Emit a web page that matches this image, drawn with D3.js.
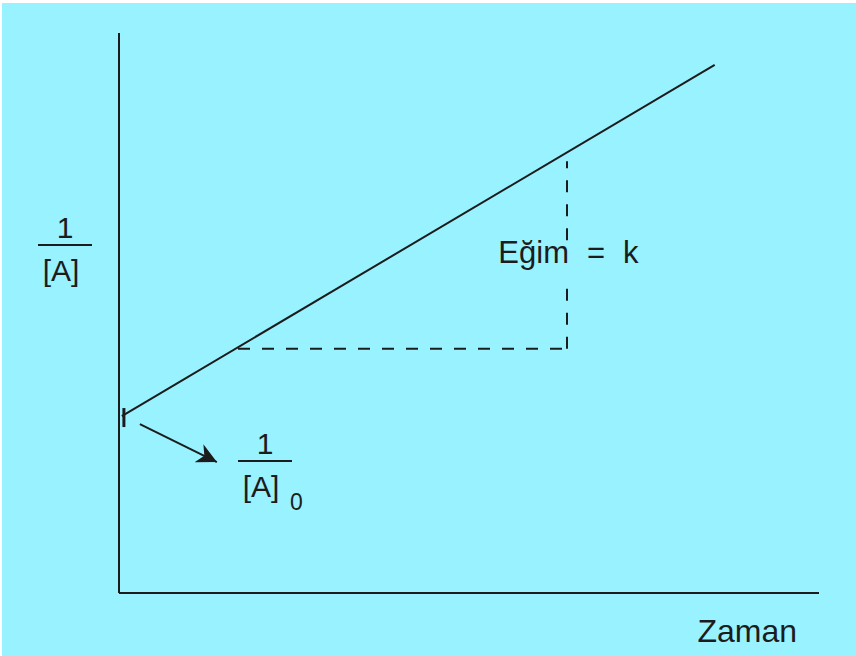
<!DOCTYPE html>
<html>
<head>
<meta charset="utf-8">
<script src="https://cdn.jsdelivr.net/npm/d3@7"></script>
<style>
  body { margin: 0; background: #ffffff; }
  text { font-family: "Liberation Sans", Arial, sans-serif; fill: #1c1c1c; }
</style>
</head>
<body>
<div id="plot"></div>
<script>
// line 1/[A] against time (arbitrary units)
const lineTime = [0.04, 8.51];
const lineValue = [3.16, 9.43];

// slope triangle
const slopeTime = [1.70, 6.40];
const slopeValue = [4.36, 7.71];
const slopeGap = [5.55, 6.3];   // break in vertical dash behind label

// intercept marker and arrow
const interceptTime = 0.07;
const interceptValue = 3.16;

const xLabel = "Zaman";
const slopeLabel = ["Eğim", "=", "k"];

function main(){
  const W = 856, H = 656;
  const margin = {top: 33, right: 37, bottom: 63, left: 119};
  const width = W - margin.left - margin.right;
  const height = H - margin.top - margin.bottom;
  const ink = "#1c1c1c";

  var svg = d3.select("#plot")
      .append("svg")
      .attr("width", W)
      .attr("height", H);

  // cyan panel (thin white strip at top and left)
  svg.append("rect")
    .attr("x", 2).attr("y", 3)
    .attr("width", W - 2).attr("height", H - 3)
    .attr("fill", "#99f2ff");

  svg.append("defs").append("marker")
    .attr("id", "head")
    .attr("viewBox", "0 0 10 10")
    .attr("refX", 10).attr("refY", 5)
    .attr("markerWidth", 30).attr("markerHeight", 20)
    .attr("markerUnits", "userSpaceOnUse")
    .attr("orient", "auto")
    .append("path")
    .attr("d", "M0,0 L10,5 L0,10 L3,5 Z")
    .attr("fill", ink);

  const g = svg.append("g")
    .attr("transform", `translate(${margin.left}, ${margin.top})`);

  const x = d3.scaleLinear().domain([0, 10]).range([0, width]);
  const y = d3.scaleLinear().domain([0, 10]).range([height, 0]);

  // axes: plain lines, no ticks
  g.append("line")
    .attr("x1", x(0)).attr("x2", x(0))
    .attr("y1", y(10)).attr("y2", y(0))
    .attr("stroke", ink).attr("stroke-width", 2);
  g.append("line")
    .attr("x1", x(0)).attr("x2", x(10))
    .attr("y1", y(0)).attr("y2", y(0))
    .attr("stroke", ink).attr("stroke-width", 2);

  // main line
  const pts = lineTime.map((t, i) => ({t: t, v: lineValue[i]}));
  g.append("path")
    .datum(pts)
    .attr("fill", "none")
    .attr("stroke", ink)
    .attr("stroke-width", 2)
    .attr("d", d3.line().x(d => x(d.t)).y(d => y(d.v)));

  // slope triangle, dashed
  g.append("line")
    .attr("x1", x(slopeTime[0])).attr("x2", x(slopeTime[1]))
    .attr("y1", y(slopeValue[0])).attr("y2", y(slopeValue[0]))
    .attr("stroke", ink).attr("stroke-width", 2)
    .attr("stroke-dasharray", "12,12");
  const vSegs = [[slopeValue[0], slopeGap[0]], [slopeGap[1], slopeValue[1]]];
  g.selectAll(".vdash")
    .data(vSegs)
    .join("line")
    .attr("x1", x(slopeTime[1])).attr("x2", x(slopeTime[1]))
    .attr("y1", d => y(d[0])).attr("y2", d => y(d[1]))
    .attr("stroke", ink).attr("stroke-width", 2)
    .attr("stroke-dasharray", "12,12");

  // slope label
  const lx = x(slopeTime[1]);
  const ly = y((slopeGap[0] + slopeGap[1]) / 2) + 2;
  g.append("text").attr("x", lx + 2).attr("y", ly)
    .attr("text-anchor", "end").attr("font-size", 31).text(slopeLabel[0]);
  g.append("text").attr("x", lx + 29).attr("y", ly)
    .attr("text-anchor", "middle").attr("font-size", 31).text(slopeLabel[1]);
  g.append("text").attr("x", lx + 56).attr("y", ly)
    .attr("font-size", 31).text(slopeLabel[2]);

  // intercept tick
  g.append("line")
    .attr("x1", x(interceptTime)).attr("x2", x(interceptTime))
    .attr("y1", y(interceptValue) - 8).attr("y2", y(interceptValue) + 11)
    .attr("stroke", ink).attr("stroke-width", 3);

  // arrow to 1/[A]0
  const ax0 = x(interceptTime) + 16, ay0 = y(interceptValue) + 8;
  g.append("line")
    .attr("x1", ax0).attr("y1", ay0)
    .attr("x2", ax0 + 77).attr("y2", ay0 + 38)
    .attr("stroke", ink).attr("stroke-width", 2)
    .attr("marker-end", "url(#head)");

  // fraction helper
  function fraction(cx, barY, size){
    g.append("text").attr("x", cx).attr("y", barY - 7)
      .attr("text-anchor", "middle").attr("font-size", size).text("1");
    g.append("line")
      .attr("x1", cx - 27).attr("x2", cx + 27)
      .attr("y1", barY).attr("y2", barY)
      .attr("stroke", ink).attr("stroke-width", 2);
    g.append("text").attr("x", cx - 4).attr("y", barY + 36)
      .attr("text-anchor", "middle").attr("font-size", size).text("[A]");
  }

  // y-axis label
  fraction(65 - margin.left, 245 - margin.top, 30);

  // intercept label with subscript
  fraction(265 - margin.left, 461 - margin.top, 30);
  g.append("text").attr("x", 290 - margin.left).attr("y", 510 - margin.top)
    .attr("font-size", 23).text("0");

  // x-axis label
  g.append("text")
    .attr("x", 797 - margin.left).attr("y", 642 - margin.top)
    .attr("text-anchor", "end")
    .attr("font-size", 32)
    .text(xLabel);
}

main();
</script>
</body>
</html>
